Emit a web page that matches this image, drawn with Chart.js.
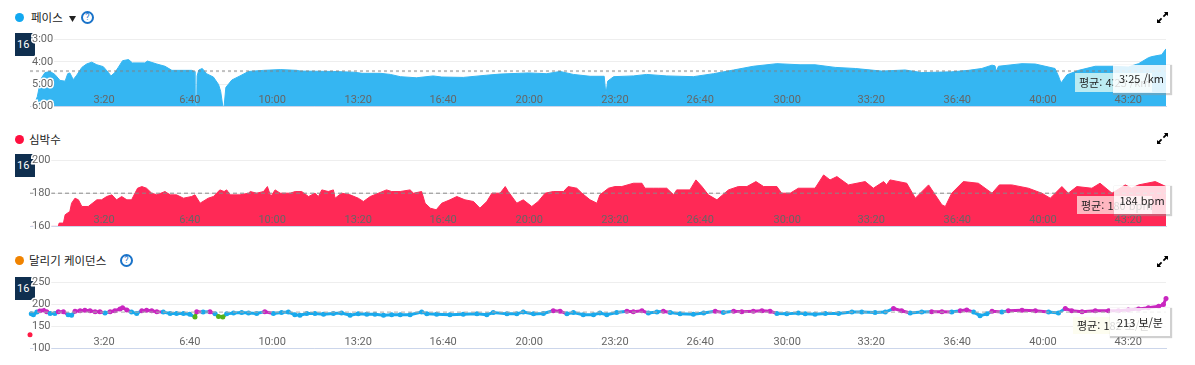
<!DOCTYPE html>
<html lang="ko">
<head>
<meta charset="utf-8">
<title>러닝 차트</title>
<script src="https://cdn.jsdelivr.net/npm/chart.js@4/dist/chart.umd.min.js"></script>
<style>
  html, body { margin: 0; padding: 0; background: #fff; }
  body { width: 1195px; height: 365px; position: relative; overflow: hidden;
         font-family: "Noto Sans CJK KR", "Noto Sans", sans-serif; color: #222; }
  canvas { position: absolute; left: 0; z-index: 2; }
  .abs { position: absolute; white-space: nowrap; }
  .dot { position: absolute; left: 15px; width: 9px; height: 9px; border-radius: 50%; }
  .title { position: absolute; font-size: 11.5px; line-height: 16px; white-space: nowrap; }
  .help { position: absolute; width: 9px; height: 9px; border: 2px solid #1a73c9; border-radius: 50%;
          color: #1a73c9; font: 9px/9px Roboto, sans-serif; text-align: center; }
  .tag { position: absolute; left: 15px; width: 20px; height: 23px; background: #0f2f4f; color: #fff;
         font: 11px/23px Roboto, sans-serif; padding-left: 2px; box-sizing: border-box; z-index: 1; }
  .avg { position: absolute; z-index: 3; font-size: 11px; line-height: 18px; padding-left: 4px; box-sizing: border-box; white-space: nowrap; overflow: hidden; }
  .tip { position: absolute; z-index: 4; font-size: 11px; text-align: center; white-space: nowrap;
         box-sizing: border-box; box-shadow: 1px 1px 1px 1px rgba(150,150,150,.45); }
  .expand { position: absolute; left: 1157px; width: 11px; height: 11px; }
</style>
</head>
<body>

<!-- 페이스 -->
<div class="dot" style="top:13px;background:#12a8f0"></div>
<div class="title" style="left:31px;top:9px">페이스</div>
<svg class="abs" style="left:69px;top:16px" width="7" height="6"><path d="M0 0H7L3.5 6Z" fill="#222"/></svg>
<div class="help" style="left:81px;top:11px">?</div>
<svg class="expand" style="top:12px" viewBox="0 0 11 11"><path d="M7 0H11V4L9.6 2.8 7 5.2 5.8 4 8.2 1.4ZM0 11V7L1.4 8.2 4 5.8 5.2 7 2.8 9.6 4 11Z" fill="#000"/></svg>
<div class="tag" style="top:33px">16</div>
<div class="avg" style="left:1075px;top:73px;width:77px;height:19px;background:rgba(200,240,242,.92)">평균: 4:25 /km</div>
<div class="tip" style="left:1113px;top:65px;width:57px;height:28px;line-height:27px;background:rgba(255,255,255,.84)">3:25 /km</div>

<!-- 심박수 -->
<div class="dot" style="top:135px;background:#ff0f3f"></div>
<div class="title" style="left:29px;top:131px">심박수</div>
<svg class="expand" style="top:133px" viewBox="0 0 11 11"><path d="M7 0H11V4L9.6 2.8 7 5.2 5.8 4 8.2 1.4ZM0 11V7L1.4 8.2 4 5.8 5.2 7 2.8 9.6 4 11Z" fill="#000"/></svg>
<div class="tag" style="top:154px">16</div>
<div class="avg" style="left:1077px;top:196px;width:75px;height:18px;background:rgba(255,190,198,.95)">평균: 180 bpm</div>
<div class="tip" style="left:1114px;top:186px;width:56px;height:28px;line-height:28px;background:rgba(255,255,255,.82)">184 bpm</div>

<!-- 달리기 케이던스 -->
<div class="dot" style="top:256px;background:#f08300"></div>
<div class="title" style="left:29px;top:252px">달리기 케이던스</div>
<div class="help" style="left:120px;top:254px">?</div>
<svg class="expand" style="top:256px" viewBox="0 0 11 11"><path d="M7 0H11V4L9.6 2.8 7 5.2 5.8 4 8.2 1.4ZM0 11V7L1.4 8.2 4 5.8 5.2 7 2.8 9.6 4 11Z" fill="#000"/></svg>
<div class="tag" style="top:277px">16</div>
<div class="avg" style="left:1073px;top:317px;width:79px;height:17px;line-height:17px;background:#fdfdf0">평균: 182 보/분</div>
<div class="tip" style="left:1110px;top:308px;width:60px;height:28px;line-height:28px;background:rgba(255,255,255,.82)">213 보/분</div>

<canvas id="paceChart" style="top:30px"></canvas>
<canvas id="heartChart" style="top:150px"></canvas>
<canvas id="cadenceChart" style="top:272px"></canvas>

<script>
// ================= DADOS =================
// posição no eixo em segundos; pace em segundos por km
const xTickTimes = [200,400,592,793,991,1192,1392,1591,1794,1990,2191,2391,2590];
const xTickLabels = ['3:20','6:40','10:00','13:20','16:40','20:00','23:20','26:40','30:00','33:20','36:40','40:00','43:20'];

const paceTimes = [35,44,49,54,62,74,85,97,109,115,120,128,136,148,159,171,183,198,210,216,225,233,243,257,266,295,301,323,342,358,404,410,412,416,417,421,429,439,455,467,472,477,480,484,498,517,537,572,611,650,658,736,783,802,845,868,
  891,929,968,988,1038,1093,1124,1190,1233,1264,1295,1334,1367,1371,1375,1389,1435,1466,1513,1575,1622,1669,1715,1770,1824,
  1859,1906,1953,2015,2069,2108,2178,2217,2248,2272,2279,2282,2287,2342,2373,2419,2427,2433,2447,2474,2513,2552,2590,2614,2637,2645,2668,2678];
const paceValues = [360,334,306,283,269,266,274,290,292,272,270,288,276,255,246,241,248,253,269,278,269,255,237,234,243,243,238,246,252,263,263,266,357,357,278,262,258,272,281,301,320,360,360,309,289,278,266,263,261,263,265,266,268,271,271,274,
  280,283,278,281,282,276,273,270,272,266,274,279,279,329,292,280,278,274,278,280,272,262,252,245,248,
  248,255,258,265,262,269,267,263,258,249,251,266,252,245,246,258,278,297,275,263,252,252,254,245,229,226,221,205];
const paceAverage = 265;

const heartTimes = [30,92,93,95,105,109,120,124,132,140,148,163,183,194,206,218,229,241,253,264,278,288,299,311,323,342,354,369,385,404,412,424,443,455,470,480,486,494,517,537,541,556,572,581,589,599,611,634,646,661,677,692,700,708,723,735,739,754,774,793,805,821,840,859,871,
  891,914,922,941,949,961,975,988,1007,1023,1042,1062,1077,1093,1105,1124,1136,1143,1163,1178,1198,1213,1229,1248,1272,1283,1303,1315,1334,1350,1357,1377,1392,1408,1435,1455,1462,1482,1494,1513,1529,1536,1567,1581,1595,1610,1630,1657,1680,1700,1721,1739,1770,1781,1801,1820,
  1859,1879,1894,1910,1937,1976,1995,2019,2026,2034,2073,2093,2124,2155,2163,2178,2205,2240,2272,2289,2318,2357,2388,2408,2435,2450,2470,2505,2524,2552,2583,2598,2614,2653,2678];
const heartValues = [160,160,160,162,162,167,169,174,177,176,172,172,176,176,178,179,176,178,176,176,183,184,183,180,179,181,179,179,177,178,179,174,177,178,182,181,182,179,179,180,181,180,181,184,178,182,180,180,181,181,178,180,178,182,181,182,177,180,179,177,175,178,180,182,181,
  181,182,180,181,174,171,170,174,176,178,176,175,171,175,180,180,184,181,174,176,172,175,180,181,181,184,183,180,176,174,179,183,184,184,186,186,183,183,183,183,179,182,182,188,184,179,176,182,184,184,187,184,184,180,180,183,
  183,191,188,190,185,187,183,187,185,188,186,177,185,173,172,180,187,186,180,185,185,183,180,177,184,180,184,183,186,180,185,183,185,187,184];
const heartAverage = 180;

const cadenceTimes = [27,28,30,35,43,50,58,66,74,85,93,105,116,124,132,144,155,167,179,190,202,214,225,237,243,253,264,276,288,299,311,323,338,354,369,385,400,412,416,431,447,459,467,477,486,502,521,537,556,575,595,614,630,645,657,673,692,712,735,754,774,793,813,832,852,871,
  891,914,941,953,976,1007,1038,1070,1093,1108,1140,1163,1178,1202,1225,1248,1264,1280,1295,1318,1342,1357,1373,1396,1420,1435,1455,1470,1490,1505,1521,1544,1575,1599,1626,1645,1669,1688,1715,1735,1754,1770,1793,1820,
  1836,1859,1883,1914,1945,1968,1999,2023,2042,2061,2081,2108,2131,2155,2178,2198,2213,2229,2244,2260,2272,2295,2310,2342,2373,2404,2427,2443,2458,2482,2513,2544,2567,2590,2614,2637,2661,2672,2678];
const cadenceValues = [131,null,178,176,182,185,187,183,179,179,183,183,176,175,184,185,186,185,183,183,180,183,185,189,192,187,182,179,185,186,185,183,182,179,179,179,177,171,183,182,183,178,172,171,178,180,181,180,179,183,179,181,182,176,175,179,179,177,179,180,175,178,177,177,175,176,
  176,176,182,178,177,176,177,178,176,181,178,178,182,178,179,185,184,178,181,176,176,180,176,181,184,183,185,180,182,184,181,178,177,180,184,181,184,183,184,185,184,179,178,180,
  178,177,179,179,182,182,181,182,190,185,180,182,183,183,182,185,187,182,174,178,184,182,185,186,185,182,180,190,185,183,185,185,185,187,189,192,195,199,213];
const cadenceAverage = 182;

const xMin = 27;
const xMax = 2678;
// =================================================

const tickFont = { family: 'Roboto, sans-serif', size: 11 };

function formatTime(val) {
    const m = Math.floor(val / 60);
    const s = val % 60;
    return m + ':' + String(s).padStart(2, '0');
}

function toPoints(times, values) {
    return times.map((t, i) => ({ x: t, y: values[i] }));
}

function avgLine(value, color, width, dash) {
    return {
        data: [{ x: xMin, y: value }, { x: xMax, y: value }],
        borderColor: color,
        borderWidth: width,
        borderDash: dash,
        pointRadius: 0,
        fill: false
    };
}

// Limpa a grade atrás dos rótulos do eixo Y (a grade começa depois do texto)
const gridMask = {
    id: 'gridMask',
    beforeDatasetsDraw(chart) {
        const area = chart.chartArea;
        chart.ctx.clearRect(area.left - 1, area.top - 2, 21, area.bottom - area.top + 2);
    }
};

function baseOptions(yOpts, yTicks, top, bottom) {
    return {
        responsive: false,
        animation: false,
        events: [],
        layout: { autoPadding: false, padding: { left: 30, right: 29, top: top, bottom: bottom } },
        plugins: { legend: { display: false }, tooltip: { enabled: false } },
        scales: {
            x: {
                type: 'linear',
                min: xMin,
                max: xMax,
                afterFit: (s) => { s.height = 0; },
                afterBuildTicks: (s) => { s.ticks = xTickTimes.map((v) => ({ value: v })); },
                grid: { display: false, drawTicks: false },
                border: { color: '#ccd6eb', z: 1 },
                ticks: {
                    autoSkip: false,
                    maxRotation: 0,
                    mirror: true,
                    padding: 0,
                    z: 1,
                    color: '#666',
                    font: tickFont,
                    callback: (val) => xTickLabels[xTickTimes.indexOf(val)]
                }
            },
            y: Object.assign({
                afterFit: (s) => { s.width = 0; },
                grid: { color: '#eeeeee', drawTicks: false },
                border: { display: false },
                ticks: Object.assign({
                    mirror: true,
                    padding: 2,
                    z: 1,
                    color: '#666',
                    font: tickFont,
                    textStrokeColor: '#fff',
                    textStrokeWidth: 3
                }, yTicks)
            }, yOpts)
        }
    };
}

function makeCanvas(id, height) {
    const canvas = document.getElementById(id);
    canvas.width = 1195;
    canvas.height = height;
    canvas.style.width = '1195px';
    canvas.style.height = height + 'px';
    return canvas;
}

function cadenceColor(val) {
    if (val >= 183) return '#c926c0';
    if (val >= 173) return '#1aa9ec';
    if (val >= 150) return '#55b21a';
    return '#ff1a45';
}

// Gráfico de pace (eixo invertido)
new Chart(makeCanvas('paceChart', 85), {
    type: 'line',
    data: {
        datasets: [
            avgLine(paceAverage, 'rgba(130,130,130,0.5)', 2, [3, 3]),
            {
                data: toPoints(paceTimes, paceValues),
                borderColor: '#35b6f2',
                backgroundColor: '#35b6f2',
                borderWidth: 1,
                pointRadius: 0,
                tension: 0,
                fill: 'start'
            }
        ]
    },
    options: baseOptions({ min: 180, max: 360, reverse: true },
        { stepSize: 60, callback: (val) => formatTime(val) }, 9.5, 6.5),
    plugins: [gridMask]
});

// Gráfico de frequência cardíaca
new Chart(makeCanvas('heartChart', 85), {
    type: 'line',
    data: {
        datasets: [
            avgLine(heartAverage, '#888', 1, [4, 3]),
            {
                data: toPoints(heartTimes, heartValues),
                borderColor: '#ff2956',
                backgroundColor: '#ff2956',
                borderWidth: 1,
                pointRadius: 0,
                tension: 0,
                fill: 'start'
            }
        ]
    },
    options: baseOptions({ min: 160, max: 200 }, { stepSize: 20 }, 10, 6),
    plugins: [gridMask]
});

// Gráfico de cadência (pontos coloridos por faixa)
new Chart(makeCanvas('cadenceChart', 85), {
    type: 'line',
    data: {
        datasets: [
            avgLine(cadenceAverage, '#aaa', 1, [4, 3]),
            {
                data: toPoints(cadenceTimes, cadenceValues),
                borderWidth: 3,
                pointRadius: 2.5,
                pointBorderWidth: 0,
                pointBackgroundColor: (ctx) => cadenceColor(ctx.raw ? ctx.raw.y : 0),
                segment: { borderColor: (ctx) => cadenceColor(ctx.p0.parsed.y) },
                spanGaps: false,
                clip: 5,
                tension: 0,
                fill: false
            }
        ]
    },
    options: baseOptions({ min: 100, max: 250 }, { stepSize: 50 }, 10, 6),
    plugins: [gridMask]
});
</script>
</body>
</html>
